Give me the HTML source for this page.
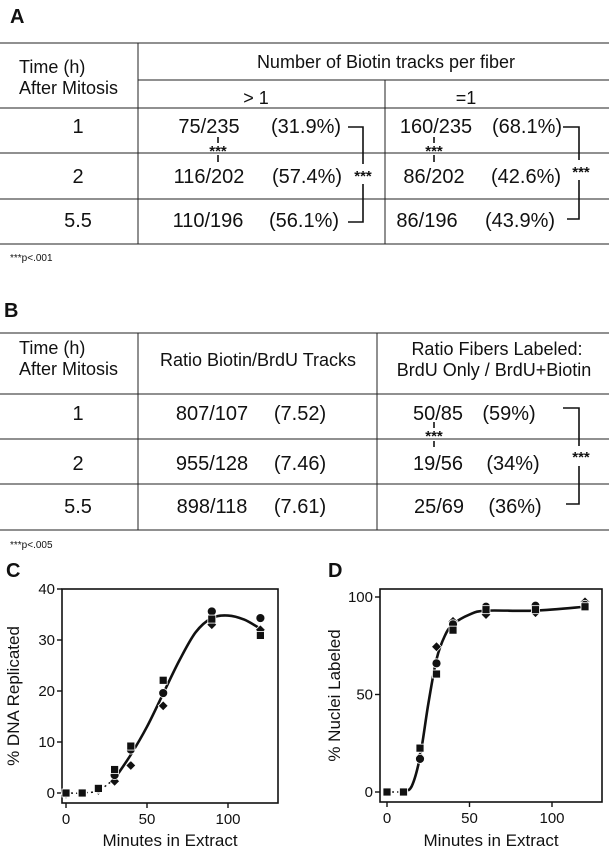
<!DOCTYPE html>
<html><head><meta charset="utf-8">
<style>
body{margin:0;background:#fff;width:609px;height:853px;overflow:hidden;font-family:"Liberation Sans",Arial,sans-serif;}
svg text{font-family:"Liberation Sans",Arial,sans-serif;fill:#111;}
</style></head><body>
<svg id="fig" width="609" height="853" viewBox="0 0 609 853">
<g stroke="#222" stroke-width="1">
  <text x="10" y="23" font-size="20" font-weight="bold" stroke="none">A</text>
  <line x1="0" y1="43" x2="609" y2="43"/><line x1="138" y1="80" x2="609" y2="80"/>
  <line x1="0" y1="108" x2="609" y2="108"/><line x1="0" y1="153" x2="609" y2="153"/>
  <line x1="0" y1="199" x2="609" y2="199"/><line x1="0" y1="244" x2="609" y2="244"/>
  <line x1="138" y1="43" x2="138" y2="244"/><line x1="385" y1="80" x2="385" y2="244"/>
  <g stroke="none" font-size="18">
    <text x="19" y="73">Time (h)</text>
    <text x="19" y="94">After Mitosis</text>
    <text x="386" y="68" text-anchor="middle">Number of Biotin tracks per fiber</text>
    <text x="256" y="104" text-anchor="middle">&gt; 1</text>
    <text x="466" y="104" text-anchor="middle">=1</text>
  </g>
  <g stroke="none" font-size="20" text-anchor="middle">
    <text x="78" y="133">1</text><text x="209" y="133">75/235</text><text x="306" y="133">(31.9%)</text><text x="436" y="133">160/235</text><text x="527" y="133">(68.1%)</text>
    <text x="78" y="183">2</text><text x="209" y="183">116/202</text><text x="307" y="183">(57.4%)</text><text x="434" y="183">86/202</text><text x="526" y="183">(42.6%)</text>
    <text x="78" y="227">5.5</text><text x="208" y="227">110/196</text><text x="304" y="227">(56.1%)</text><text x="427" y="227">86/196</text><text x="520" y="227">(43.9%)</text>
  </g>
  <g stroke="#111" stroke-width="1.6" fill="none">
    <polyline points="348,127 363,127 363,164"/><polyline points="363,184 363,222 348,222"/>
    <polyline points="563,127 579,127 579,160"/><polyline points="579,180 579,219 567,219"/>
    <line x1="218" y1="137" x2="218" y2="143"/><line x1="218" y1="155" x2="218" y2="162"/>
    <line x1="434" y1="137" x2="434" y2="143"/><line x1="434" y1="155" x2="434" y2="162"/>
  </g>
  <g stroke="none" font-size="15" font-weight="bold" text-anchor="middle">
    <text x="363" y="181">***</text><text x="581" y="177">***</text>
    <text x="218" y="156">***</text><text x="434" y="156">***</text>
  </g>
  <text x="10" y="261" font-size="10" stroke="none">***p&lt;.001</text>
</g>
<g stroke="#222" stroke-width="1">
  <text x="4" y="317" font-size="20" font-weight="bold" stroke="none">B</text>
  <line x1="0" y1="333" x2="609" y2="333"/><line x1="0" y1="394" x2="609" y2="394"/>
  <line x1="0" y1="439" x2="609" y2="439"/><line x1="0" y1="484" x2="609" y2="484"/>
  <line x1="0" y1="530" x2="609" y2="530"/>
  <line x1="138" y1="333" x2="138" y2="530"/><line x1="377" y1="333" x2="377" y2="530"/>
  <g stroke="none" font-size="18">
    <text x="19" y="354">Time (h)</text><text x="19" y="375">After Mitosis</text>
    <text x="258" y="366" text-anchor="middle">Ratio Biotin/BrdU Tracks</text>
    <text x="497" y="355" text-anchor="middle">Ratio Fibers Labeled:</text>
    <text x="494" y="376" text-anchor="middle">BrdU Only / BrdU+Biotin</text>
  </g>
  <g stroke="none" font-size="20" text-anchor="middle">
    <text x="78" y="420">1</text><text x="212" y="420">807/107</text><text x="300" y="420">(7.52)</text><text x="438" y="420">50/85</text><text x="509" y="420">(59%)</text>
    <text x="78" y="470">2</text><text x="212" y="470">955/128</text><text x="300" y="470">(7.46)</text><text x="438" y="470">19/56</text><text x="513" y="470">(34%)</text>
    <text x="78" y="513">5.5</text><text x="212" y="513">898/118</text><text x="300" y="513">(7.61)</text><text x="439" y="513">25/69</text><text x="515" y="513">(36%)</text>
  </g>
  <g stroke="#111" stroke-width="1.6" fill="none">
    <polyline points="563,408 579,408 579,446"/><polyline points="579,466 579,504 566,504"/>
    <line x1="434" y1="422" x2="434" y2="428"/><line x1="434" y1="441" x2="434" y2="447"/>
  </g>
  <g stroke="none" font-size="15" font-weight="bold" text-anchor="middle">
    <text x="581" y="462">***</text><text x="434" y="441">***</text>
  </g>
  <text x="10" y="548" font-size="10" stroke="none">***p&lt;.005</text>
</g>
<g id="chartC"></g>
<g id="chartD"></g>
</svg>
<script>
const xMinutes=[0,10,20,30,40,60,90,120];
const cCircle=[0,0,0.8,3.5,8.5,19.6,35.6,34.3];
const cSquare=[0,0,0.9,4.6,9.2,22.1,34.1,30.9];
const cDiamond=[-0.2,0,0.5,2.3,5.4,17.1,33,32];
const cFitX=[0,10,20,30,40,50,60,70,80,90,100,110,120];
const cFitY=[0,0,0.5,2.8,7.5,13,19.5,26,31.5,34.3,34.8,34,32.2];
const cYTicks=[0,10,20,30,40];
const dCircle=[0,0,17,66,86,95,95.5,96];
const dSquare=[0,0,22.5,60.5,83,93.5,93.5,95];
const dDiamond=[0,0,18,74.5,87.5,91,92,97.5];
const dFitX=[0,10,15,20,25,30,35,40,50,60,90,120];
const dFitY=[0,0,3,18,45,68,80,86,91,93,93,95];
const dYTicks=[0,50,100];
const xTicks=[0,50,100];
const NS='http://www.w3.org/2000/svg';
function mk(tag,attrs,parent){const e=document.createElementNS(NS,tag);for(const k in attrs)e.setAttribute(k,attrs[k]);parent.appendChild(e);return e;}
function catmull(pts){let d='M'+pts[0][0]+','+pts[0][1];for(let i=0;i<pts.length-1;i++){const p0=pts[i-1]||pts[i],p1=pts[i],p2=pts[i+1],p3=pts[i+2]||p2;
d+=' C'+(p1[0]+(p2[0]-p0[0])/6)+','+(p1[1]+(p2[1]-p0[1])/6)+' '+(p2[0]-(p3[0]-p1[0])/6)+','+(p2[1]-(p3[1]-p1[1])/6)+' '+p2[0]+','+p2[1];}return d;}
function chart(g,cfg){
  const sx=v=>cfg.x0+(v)*(cfg.x100-cfg.x0)/100;
  const sy=v=>cfg.y0-(v)*(cfg.y0-cfg.yTop)/cfg.yMax;
  const lab=mk('text',{x:cfg.labX,y:577,'font-size':20,'font-weight':'bold'},g);lab.textContent=cfg.label;
  
  
  const box=mk('rect',{x:cfg.bx0,y:cfg.by0,width:cfg.bx1-cfg.bx0,height:cfg.by1-cfg.by0,fill:'none',stroke:'#111','stroke-width':1.6},g);
  
  
  cfg.yTicks.forEach(t=>{const y=sy(t);mk('line',{x1:cfg.bx0-5,y1:y,x2:cfg.bx0,y2:y,stroke:'#111','stroke-width':1.4},g);
    const tx=mk('text',{x:cfg.bx0-7,y:y+5,'font-size':15,'text-anchor':'end'},g);tx.textContent=t;
    
    });
  xTicks.forEach(t=>{const x=sx(t);mk('line',{x1:x,y1:cfg.by1,x2:x,y2:cfg.by1+5,stroke:'#111','stroke-width':1.4},g);
    const tx=mk('text',{x:x,y:cfg.by1+21,'font-size':15,'text-anchor':'middle'},g);tx.textContent=t;
    
    });
  const xt=mk('text',{x:(cfg.bx0+cfg.bx1)/2,y:846,'font-size':17,'text-anchor':'middle'},g);xt.textContent='Minutes in Extract';
  
  
  const yt=mk('text',{x:0,y:0,'font-size':17,'text-anchor':'middle',transform:'translate('+cfg.ytX+','+((cfg.by0+cfg.by1)/2)+') rotate(-90)'},g);yt.textContent=cfg.yTitle;
  
  
  const pts=cfg.fitX.map((v,i)=>[sx(v),sy(cfg.fitY[i])]);
  const dotted=pts.filter((p,i)=>cfg.fitX[i]<=cfg.dotEnd), solid=pts.filter((p,i)=>cfg.fitX[i]>=cfg.dotEnd);
  const l1=mk('path',{d:catmull(dotted),fill:'none',stroke:'#111','stroke-width':1.5,'stroke-dasharray':'2,3'},g);
  
  
  const l2=mk('path',{d:catmull(solid),fill:'none',stroke:'#111','stroke-width':2.6},g);
  
  
  xMinutes.forEach((v,i)=>{const x=sx(v);
    let y=sy(cfg.diamond[i]);const d=mk('polygon',{points:[x,y-5,x+5,y,x,y+5,x-5,y].join(','),fill:'#111',stroke:'#fff','stroke-width':0.8},g);
    
    
    y=sy(cfg.circle[i]);const c=mk('circle',{cx:x,cy:y,r:4.5,fill:'#111',stroke:'#fff','stroke-width':0.8},g);
    
    
    y=sy(cfg.square[i]);const s=mk('rect',{x:x-4,y:y-4,width:8,height:8,fill:'#111',stroke:'#fff','stroke-width':0.8},g);
    
    });
}
chart(document.getElementById('chartC'),{label:'C',labX:6,bx0:62,bx1:278,by0:589,by1:803,x0:66,x100:228,y0:793,yTop:589,yMax:40,
  yTicks:cYTicks,yTitle:'% DNA Replicated',ytX:19,fitX:cFitX,fitY:cFitY,dotEnd:30,circle:cCircle,square:cSquare,diamond:cDiamond});
chart(document.getElementById('chartD'),{label:'D',labX:328,bx0:380,bx1:602,by0:589,by1:802,x0:387,x100:552,y0:792,yTop:597,yMax:100,
  yTicks:dYTicks,yTitle:'% Nuclei Labeled',ytX:340,fitX:dFitX,fitY:dFitY,dotEnd:10,circle:dCircle,square:dSquare,diamond:dDiamond});
</script>
</body></html>
